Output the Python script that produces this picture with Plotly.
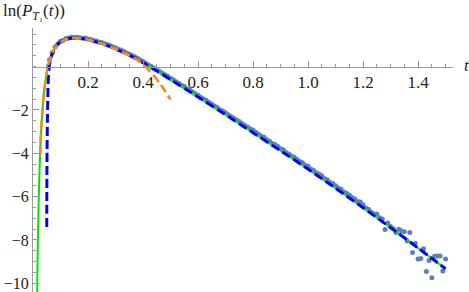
import plotly.graph_objects as go

# ---- data ----
# exact curve (green, solid)
green_t = [0.0145, 0.015, 0.0175, 0.02, 0.0225, 0.025, 0.0275, 0.03, 0.035, 0.04, 0.045, 0.05, 0.055,
           0.06, 0.07, 0.08, 0.09, 0.10, 0.11, 0.12, 0.14, 0.16, 0.18, 0.20, 0.25, 0.30, 0.35,
           0.40, 0.45, 0.50, 0.60, 0.70, 0.80, 0.90, 1.00, 1.10, 1.20, 1.30, 1.40, 1.50]
green_y = [-11.2, -10.6, -8.2, -6.6, -5.3, -4.3, -3.5, -2.85, -1.9, -1.2, -0.68, -0.28, 0.03,
           0.27, 0.63, 0.86, 1.03, 1.13, 1.20, 1.26, 1.31, 1.31, 1.29, 1.24, 1.06, 0.82, 0.53,
           0.18, -0.20, -0.60, -1.40, -2.22, -3.05, -3.88, -4.73, -5.61, -6.51, -7.43, -8.37, -9.33]

# short-time approximation (orange, dashed)
orange_t = [0.0255, 0.0275, 0.03, 0.035, 0.04, 0.045, 0.05, 0.055, 0.06, 0.07, 0.08, 0.09, 0.10,
            0.11, 0.12, 0.14, 0.16, 0.18, 0.20, 0.25, 0.30, 0.35, 0.38, 0.40, 0.42, 0.44, 0.46,
            0.48, 0.50]
orange_y = [-4.1, -3.5, -2.85, -1.9, -1.2, -0.68, -0.28, 0.03, 0.27, 0.63, 0.86, 1.03, 1.13,
            1.20, 1.26, 1.31, 1.31, 1.29, 1.24, 1.06, 0.82, 0.52, 0.30, 0.10, -0.15, -0.43, -0.75,
            -1.12, -1.52]

# long-time approximation (blue, dashed)
blue_t = [0.0500, 0.0505, 0.0514, 0.0527, 0.0542, 0.056, 0.059, 0.063, 0.068, 0.074, 0.08, 0.09,
          0.10, 0.11, 0.12, 0.14, 0.16, 0.18, 0.20, 0.25, 0.30, 0.35, 0.40, 0.45, 0.50, 0.60,
          0.70, 0.80, 0.90, 1.00, 1.10, 1.20, 1.30, 1.40, 1.50]
blue_y = [-7.4, -5.0, -3.5, -2.2, -1.2, -0.5, 0.0, 0.32, 0.52, 0.70, 0.86, 1.03,
          1.13, 1.20, 1.26, 1.31, 1.31, 1.29, 1.24, 1.06, 0.82, 0.53, 0.18, -0.20, -0.60, -1.40,
          -2.22, -3.05, -3.88, -4.73, -5.61, -6.51, -7.43, -8.37, -9.33]

# simulated data points
dots_t = [round(0.06 + 0.01 * i, 2) for i in range(145)]
dots_y = [0.31, 0.64, 0.90, 1.05, 1.17, 1.22, 1.30, 1.32, 1.35, 1.34,
          1.35, 1.33, 1.31, 1.32, 1.27, 1.25, 1.20, 1.18, 1.13, 1.11,
          1.05, 1.02, 0.97, 0.91, 0.87, 0.80, 0.76, 0.70, 0.63, 0.58,
          0.51, 0.45, 0.38, 0.30, 0.23, 0.15, 0.07, 0.00, -0.08, -0.14,
          -0.23, -0.30, -0.38, -0.45, -0.54, -0.61, -0.70, -0.77, -0.86, -0.92,
          -1.02, -1.08, -1.17, -1.25, -1.32, -1.41, -1.50, -1.56, -1.66, -1.73,
          -1.82, -1.89, -1.99, -2.05, -2.13, -2.22, -2.30, -2.38, -2.47, -2.53,
          -2.63, -2.71, -2.79, -2.88, -2.93, -3.03, -3.12, -3.21, -3.26, -3.37,
          -3.44, -3.55, -3.60, -3.69, -3.79, -3.84, -3.96, -4.03, -4.13, -4.18,
          -4.29, -4.38, -4.44, -4.55, -4.60, -4.72, -4.78, -4.90, -4.96, -5.04,
          -5.16, -5.22, -5.35, -5.39, -5.50, -5.60, -5.66, -5.79, -5.84, -5.93,
          -6.04, -6.11, -6.23, -6.25,
          -6.38, -6.52, -6.58, -6.72, -6.80, -6.80, -6.98, -7.03, -7.52, -7.22,
          -7.38, -7.48, -7.66, -7.50, -7.58, -7.62, -8.05, -7.65, -8.58, -8.15,
          -8.88, -8.85, -8.40, -9.45, -8.95, -9.74, -8.75, -8.74, -8.74, -9.43,
          -8.88]

x_ticks = [0.2, 0.4, 0.6, 0.8, 1.0, 1.2, 1.4]
x_tick_text = ["0.2", "0.4", "0.6", "0.8", "1.0", "1.2", "1.4"]
y_ticks = [-10, -8, -6, -4, -2]
y_tick_text = ["\u221210", "\u22128", "\u22126", "\u22124", "\u22122"]

X_RANGE = [0, 1.527]
Y_RANGE = [-10.4, 1.78]

fig = go.Figure()
fig.add_trace(go.Scatter(x=dots_t, y=dots_y, mode="markers",
                         marker=dict(size=5, color="#5E81B5", line=dict(width=0)),
                         showlegend=False))
fig.add_trace(go.Scatter(x=green_t, y=green_y, mode="lines",
                         line=dict(color="#00E600", width=2, shape="spline", smoothing=0.6),
                         showlegend=False))
fig.add_trace(go.Scatter(x=blue_t, y=blue_y, mode="lines",
                         line=dict(color="#0000FF", width=3, dash="9px,4px", shape="spline", smoothing=0.6),
                         showlegend=False))
fig.add_trace(go.Scatter(x=orange_t, y=orange_y, mode="lines",
                         line=dict(color="#F5871F", width=2.6, dash="9px,4px", shape="spline", smoothing=0.6),
                         showlegend=False))

axis_col = "#9a9a9a"
SERIF = "Times New Roman, Liberation Serif, DejaVu Serif, serif"
x_tick_font = dict(family=SERIF, size=17, color="#222")
y_tick_font = dict(family=SERIF, size=16, color="#222")
x_pos = (0 - Y_RANGE[0]) / (Y_RANGE[1] - Y_RANGE[0])

fig.update_layout(
    width=469, height=292,
    margin=dict(l=33, r=16, t=28, b=0, autoexpand=False),
    plot_bgcolor="white", paper_bgcolor="white",
    showlegend=False,
    font=dict(family=SERIF),
    xaxis=dict(range=X_RANGE, anchor="free", position=x_pos, automargin=False,
               tickmode="array", tickvals=x_ticks, ticktext=x_tick_text,
               ticks="inside", ticklen=6, tickcolor=axis_col, tickwidth=1,
               showline=True, linecolor=axis_col, linewidth=1,
               showgrid=False, zeroline=False, tickfont=x_tick_font,
               minor=dict(dtick=0.05, tick0=0, ticks="inside", ticklen=3,
                          tickcolor=axis_col, showgrid=False)),
    yaxis=dict(range=Y_RANGE, automargin=False,
               tickmode="array", tickvals=y_ticks, ticktext=y_tick_text,
               ticks="inside", ticklen=6, tickcolor=axis_col, tickwidth=1,
               showline=True, linecolor=axis_col, linewidth=1,
               showgrid=False, zeroline=False, tickfont=y_tick_font,
               minor=dict(dtick=0.5, tick0=0, ticks="inside", ticklen=3,
                          tickcolor=axis_col, showgrid=False)),
    annotations=[
        dict(text="ln(<i>P</i><sub><i>T</i>\u2081</sub>(<i>t</i>))", xref="paper", yref="paper",
             x=0, y=1, xanchor="left", yanchor="middle", xshift=-32, yshift=16,
             showarrow=False, font=dict(family=SERIF, size=17, color="#222")),
        dict(text="<i>t</i>", xref="paper", yref="y", x=1, y=0,
             xanchor="left", yanchor="middle", xshift=9, yshift=1,
             showarrow=False, font=dict(family=SERIF, size=17, color="#222")),
    ],
)

fig.write_html("out.html", config={"displayModeBar": False},
               post_script="document.body.style.margin='0';document.body.style.overflow='hidden';")
